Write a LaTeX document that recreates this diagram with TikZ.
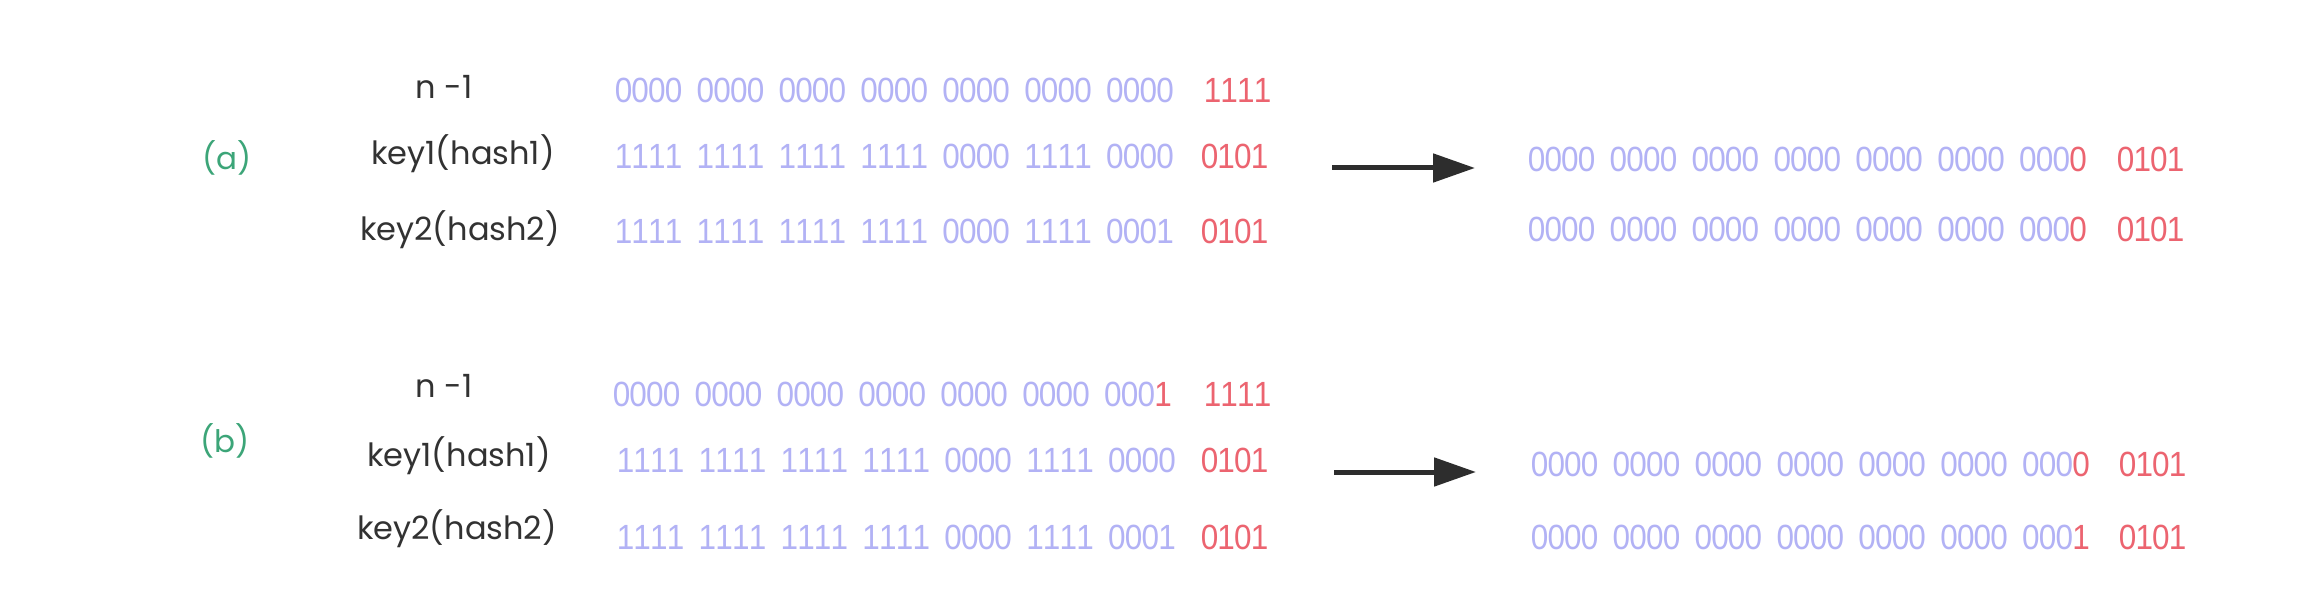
\documentclass[tikz,border=0pt]{standalone}
\usepackage{fontspec}
\setmainfont{Poppins}
\newfontfamily\bitfam{Liberation Sans}
\usetikzlibrary{arrows.meta}
\definecolor{bitblue}{RGB}{178,178,245}
\definecolor{bitred}{RGB}{236,100,112}
\definecolor{lblgray}{RGB}{50,50,50}
\definecolor{tagreen}{RGB}{60,165,120}
\definecolor{arrgray}{RGB}{45,45,45}
\newcommand{\bitfont}{\bitfam\fontsize{35}{38}\selectfont}
\newcommand{\dg}[1]{\makebox[0.53em]{#1}}
\newcommand{\g}[4]{\scalebox{0.9}[1]{\dg{#1}\dg{#2}\dg{#3}\dg{#4}}}
\newcommand{\gs}{\hspace{0.432em}}
\newcommand{\R}[1]{\textcolor{bitred}{#1}}
\begin{document}
\begin{tikzpicture}[x=1pt,y=-1pt,
 bits/.style={anchor=west,inner sep=0pt,text=bitblue,font=\bitfont},
 low/.style={anchor=west,inner sep=0pt,text=bitred,font=\bitfont},
 lbl/.style={anchor=base,inner sep=0pt,text=lblgray,font=\fontsize{32}{35}\selectfont},
 tag/.style={anchor=base,inner sep=0pt,text=tagreen,font=\fontsize{31}{34}\selectfont},
 arr/.style={-{Triangle[length=42pt,width=28pt]},line width=5pt,arrgray}]
\useasboundingbox (0,0) rectangle (2302,612);
\fill[white] (0,0) rectangle (2302,612);
% ---------- (a) ----------
\node[tag] (ta) at (227,170) {(a)};
\node[lbl] (na) at (444,99) {n -1};
\node[lbl] (k1a) at (463,165) {key1(hash1)};
\node[lbl] (k2a) at (460,241) {key2(hash2)};
\node[bits] (ba0) at (615,90) {\g0000\gs\g0000\gs\g0000\gs\g0000\gs\g0000\gs\g0000\gs\g0000};
\node[low] (la0) at (1204,90) {\g1111};
\node[bits] (ba1) at (615,156) {\g1111\gs\g1111\gs\g1111\gs\g1111\gs\g0000\gs\g1111\gs\g0000};
\node[low] (la1) at (1201,156) {\g0101};
\node[bits] (ba2) at (615,231) {\g1111\gs\g1111\gs\g1111\gs\g1111\gs\g0000\gs\g1111\gs\g0001};
\node[low] (la2) at (1201,231) {\g0101};
\coordinate (asA) at (1332,168);
\coordinate (aeA) at (1475,168);
\draw[arr] (asA) -- (aeA);
\node[bits] (ra1) at (1528,159) {\g0000\gs\g0000\gs\g0000\gs\g0000\gs\g0000\gs\g0000\gs\g000{\R0}};
\node[low] (rla1) at (2117,159) {\g0101};
\node[bits] (ra2) at (1528,229) {\g0000\gs\g0000\gs\g0000\gs\g0000\gs\g0000\gs\g0000\gs\g000{\R0}};
\node[low] (rla2) at (2117,229) {\g0101};
% ---------- (b) ----------
\node[tag] (tb) at (225,452) {(b)};
\node[lbl] (nb) at (444,397) {n -1};
\node[lbl] (k1b) at (459,466) {key1(hash1)};
\node[lbl] (k2b) at (457,539) {key2(hash2)};
\node[bits] (bb0) at (613,394) {\g0000\gs\g0000\gs\g0000\gs\g0000\gs\g0000\gs\g0000\gs\g000{\R1}};
\node[low] (lb0) at (1204,394) {\g1111};
\node[bits] (bb1) at (617,460) {\g1111\gs\g1111\gs\g1111\gs\g1111\gs\g0000\gs\g1111\gs\g0000};
\node[low] (lb1) at (1201,460) {\g0101};
\node[bits] (bb2) at (617,537) {\g1111\gs\g1111\gs\g1111\gs\g1111\gs\g0000\gs\g1111\gs\g0001};
\node[low] (lb2) at (1201,537) {\g0101};
\coordinate (asB) at (1334,472);
\coordinate (aeB) at (1476,472);
\draw[arr] (asB) -- (aeB);
\node[bits] (rb1) at (1531,464) {\g0000\gs\g0000\gs\g0000\gs\g0000\gs\g0000\gs\g0000\gs\g000{\R0}};
\node[low] (rlb1) at (2119,464) {\g0101};
\node[bits] (rb2) at (1531,537) {\g0000\gs\g0000\gs\g0000\gs\g0000\gs\g0000\gs\g0000\gs\g000{\R1}};
\node[low] (rlb2) at (2119,537) {\g0101};
\end{tikzpicture}
\end{document}
